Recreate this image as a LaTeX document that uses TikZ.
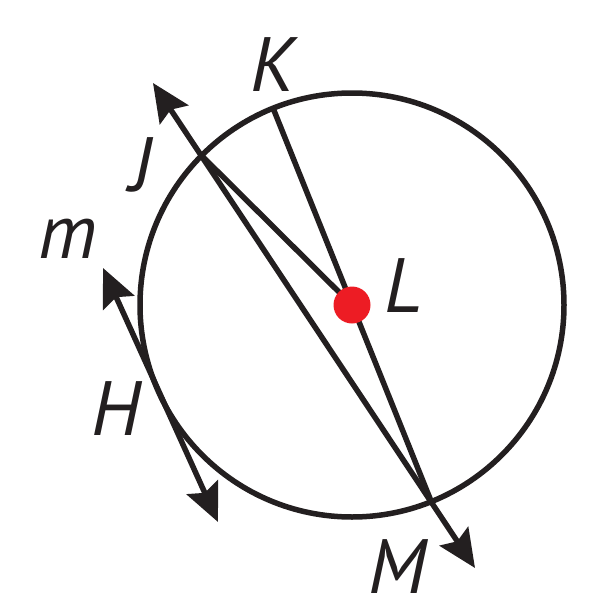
\documentclass[tikz,border=0pt]{standalone}
\usepackage{fontspec}
\setmainfont{PT Sans}
\usetikzlibrary{arrows.meta}
\definecolor{ink}{HTML}{231F20}
\definecolor{dotred}{HTML}{ED1C24}
\tikzset{
  geo/.style={draw=ink,line width=5.5pt},
  ray/.style={geo,{Stealth[length=38pt,width=34pt,inset=6pt]}-{Stealth[length=38pt,width=34pt,inset=6pt]}},
  lbl/.style={font=\fontsize{77}{77}\selectfont\itshape,text=ink,inner sep=0pt}
}
\begin{document}
\begin{tikzpicture}[x=1pt,y=-1pt]
\useasboundingbox (0,0) rectangle (605,610);
\coordinate (L) at (352,305);
\coordinate (K) at (273,108);
\coordinate (M) at (431,501);
\coordinate (J) at (200,154);
\coordinate (S1) at (153,83);
\coordinate (S2) at (475,568);
\coordinate (T1) at (103,268);
\coordinate (T2) at (218,522);
\draw[geo] (L) circle (212);
\draw[geo] (K) -- (M);
\draw[geo] (J) -- (L);
\draw[ray] (S1) -- (S2);
\draw[ray] (T1) -- (T2);
\fill[dotred] (L) circle (18.5);
\node[lbl] (lK) at (273,65) {K};
\node[lbl] (lJ) at (141,165) {J};
\node[lbl] (lm) at (68,239) {m};
\node[lbl] (lL) at (403,286) {L};
\node[lbl] (lH) at (116,409) {H};
\node[lbl] (lM) at (398,567) {M};
\end{tikzpicture}
\end{document}
